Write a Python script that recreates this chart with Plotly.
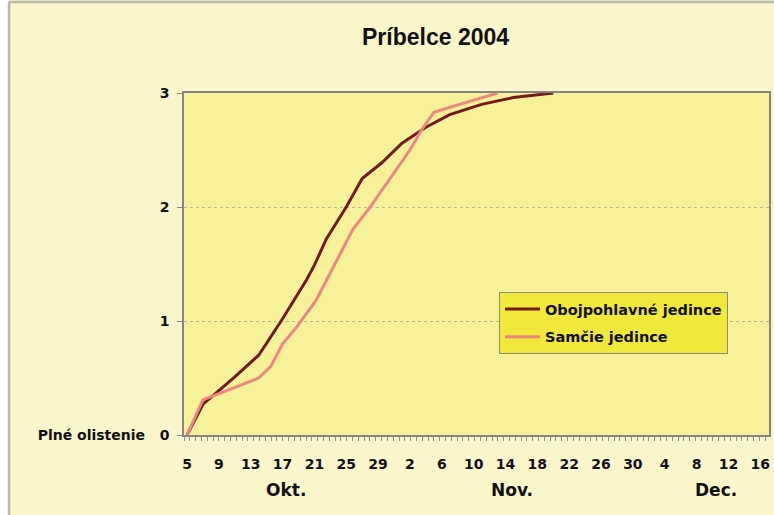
import plotly.graph_objects as go

title_text = "Príbelce 2004"
series_names = ["Obojpohlavné jedince", "Samčie jedince"]

# days since 5 Oct 2004
days_obo = [0, 2, 4, 6, 9, 12, 15, 16, 17.5, 20, 22, 24.5, 27, 30, 33, 37, 41, 46]
vals_obo = [0, 0.27, 0.39, 0.51, 0.70, 1.02, 1.36, 1.49, 1.72, 2.0, 2.25, 2.39, 2.56, 2.70, 2.81, 2.90, 2.96, 3.0]
days_sam = [0, 2, 5, 9, 10.5, 12, 13.7, 16.2, 18.2, 20.8, 23, 25.4, 28, 29.5, 31, 33.3, 36.3, 39]
vals_sam = [0, 0.31, 0.39, 0.50, 0.60, 0.80, 0.94, 1.18, 1.45, 1.80, 2.0, 2.24, 2.5, 2.68, 2.83, 2.88, 2.94, 3.0]

tick_days = list(range(0, 73, 4))
tick_labels = ["5", "9", "13", "17", "21", "25", "29", "2", "6", "10", "14", "18",
               "22", "26", "30", "4", "8", "12", "16"]
month_labels = ["Okt.", "Nov.", "Dec."]
month_days = [12.4, 40.8, 66.5]
y_ticks = [0, 1, 2, 3]
y_labels = ["Plné olistenie\u00a0\u00a0\u00a00", "1", "2", "3"]

W, H = 774, 515
ML, MR, MT, MB = 184, 5, 93, 80
PW, PH = W - ML - MR, H - MT - MB

def px(x):
    return (x - ML) / PW

def py(y):
    return (H - MB - y) / PH

FONT = "DejaVu Sans"
cream = "#FAF5CB"

fig = go.Figure()
fig.add_trace(go.Scatter(x=days_obo, y=vals_obo, mode="lines", name=series_names[0],
                         legendgroup="a",
                         line=dict(color="#741A18", width=3)))
fig.add_trace(go.Scatter(x=days_sam, y=vals_sam, mode="lines", name=series_names[1],
                         legendgroup="b",
                         line=dict(color="#EC8880", width=3)))

annotations = [dict(x=d, y=py(490), xref="x", yref="paper", text=t, showarrow=False,
                    font=dict(family=FONT, size=17, color="#111111", weight="bold"),
                    xanchor="center", yanchor="middle")
               for d, t in zip(month_days, month_labels)]
annotations.append(dict(x=px(435), y=py(37), xref="paper", yref="paper", text=title_text,
                        showarrow=False, xanchor="center", yanchor="middle",
                        font=dict(family="Liberation Sans", size=23, color="#111111", weight="bold")))

shapes = [
    dict(type="rect", xref="paper", yref="paper", x0=px(-2), x1=px(8), y0=py(520), y1=py(-5),
         fillcolor="#FFFFFF", line=dict(width=0), layer="above"),
    dict(type="line", xref="paper", yref="paper", x0=px(9), x1=px(9), y0=py(520), y1=py(2),
         line=dict(color="#B9B9B0", width=2.5), layer="above"),
    dict(type="line", xref="paper", yref="paper", x0=px(9), x1=px(780), y0=py(2), y1=py(2),
         line=dict(color="#B9B9B0", width=2.5), layer="above"),
]

fig.update_layout(
    width=W, height=H,
    margin=dict(l=ML, r=MR, t=MT, b=MB, autoexpand=False),
    paper_bgcolor=cream,
    plot_bgcolor="#F7F199",
    font=dict(family=FONT, size=14, color="#111111"),
    showlegend=True,
    legend=dict(x=px(499), y=py(292), xanchor="left", yanchor="top",
                bgcolor="#F0E83A", bordercolor="#8A8A70", borderwidth=1,
                font=dict(family=FONT, size=14.5, color="#111111", weight="bold"),
                itemwidth=35, tracegroupgap=6),
    annotations=annotations,
    shapes=shapes,
)

fig.update_xaxes(
    range=[-0.38, 73.1], tickmode="array", tickvals=tick_days, ticktext=tick_labels,
    ticks="", showgrid=False, zeroline=False,
    showline=True, linecolor="#858585", linewidth=1.5, mirror=True,
    tickfont=dict(family=FONT, size=14, color="#111111", weight="bold"),
    ticklabelstandoff=15,
    minor=dict(ticks="outside", ticklen=4, tickcolor="#909090", dtick=0.73, tick0=-0.38,
               showgrid=False),
)
fig.update_yaxes(
    range=[0, 3], tickmode="array", tickvals=y_ticks, ticktext=y_labels,
    ticks="outside", ticklen=5, tickcolor="#858585",
    showgrid=True, gridcolor="#BDB88C", griddash="dot", gridwidth=1,
    zeroline=False, showline=True, linecolor="#858585", linewidth=1.5, mirror=True,
    tickfont=dict(family=FONT, size=14, color="#111111", weight="bold"),
    ticklabelstandoff=5,
)

fig.write_html("out.html", config={"displayModeBar": False},
               post_script="document.body.style.margin='0px';")
